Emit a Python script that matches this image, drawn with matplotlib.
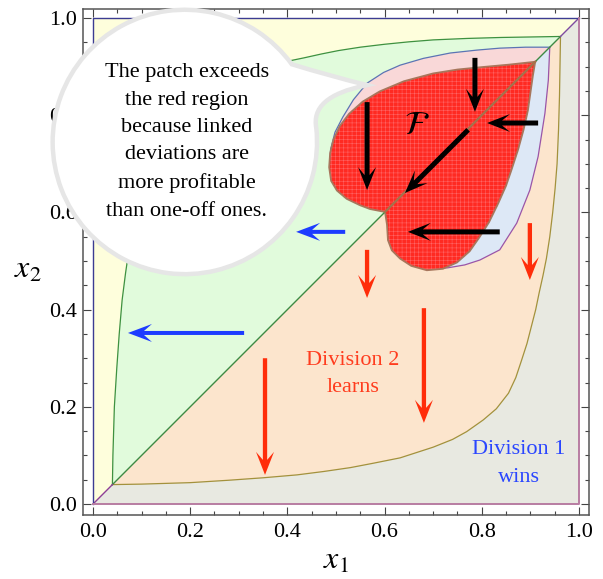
import numpy as np
import matplotlib
matplotlib.use("Agg")
import matplotlib.pyplot as plt
from matplotlib.patches import Polygon, PathPatch
from matplotlib.path import Path
from matplotlib.ticker import MultipleLocator

plt.rcParams["font.family"] = ["Liberation Serif", "DejaVu Serif"]
plt.rcParams["mathtext.fontset"] = "stix"
plt.rcParams["hatch.linewidth"] = 0.4

# boundary of the "Division 2 learns" region (below the diagonal); the upper curve is its mirror
olive_x1 = [0.040, 0.100, 0.200, 0.280, 0.350, 0.420, 0.475, 0.530, 0.577, 0.632, 0.700, 0.740,
            0.769, 0.803, 0.830, 0.855, 0.870, 0.882, 0.893, 0.902, 0.911, 0.918, 0.926, 0.933,
            0.940, 0.946, 0.951, 0.955, 0.958, 0.960, 0.961, 0.962]
olive_x2 = [0.040, 0.041, 0.044, 0.049, 0.054, 0.060, 0.067, 0.075, 0.084, 0.095, 0.117, 0.133,
            0.149, 0.173, 0.196, 0.228, 0.260, 0.296, 0.330, 0.365, 0.400, 0.434, 0.470, 0.505,
            0.550, 0.600, 0.650, 0.700, 0.770, 0.840, 0.900, 0.960]

# red patch F: upper half (above diagonal) and lower half, both from the notch to the tip
red_up_x1 = [0.601, 0.570, 0.549, 0.522, 0.502, 0.490, 0.486, 0.488, 0.495, 0.508, 0.527, 0.555,
             0.590, 0.640, 0.700, 0.750, 0.800, 0.855, 0.910]
red_up_x2 = [0.601, 0.607, 0.615, 0.628, 0.645, 0.665, 0.693, 0.722, 0.750, 0.778, 0.803, 0.828,
             0.849, 0.870, 0.886, 0.894, 0.899, 0.904, 0.910]
red_lo_x1 = [0.601, 0.605, 0.607, 0.615, 0.632, 0.655, 0.687, 0.720, 0.749, 0.775, 0.796, 0.815,
             0.834, 0.850, 0.861, 0.875, 0.886, 0.895, 0.900, 0.905, 0.910]
red_lo_x2 = [0.601, 0.575, 0.543, 0.522, 0.505, 0.490, 0.481, 0.484, 0.497, 0.520, 0.550, 0.580,
             0.619, 0.655, 0.687, 0.730, 0.770, 0.810, 0.845, 0.880, 0.910]

# lens around F: upper (pink) and lower (light blue) halves
lens_up_x1 = [0.601, 0.545, 0.505, 0.487, 0.489, 0.498, 0.514, 0.536, 0.564, 0.598, 0.632, 0.680,
              0.735, 0.790, 0.837, 0.890, 0.940]
lens_up_x2 = [0.601, 0.628, 0.655, 0.690, 0.730, 0.765, 0.796, 0.832, 0.866, 0.888, 0.903, 0.917,
              0.928, 0.934, 0.938, 0.940, 0.940]
lens_lo_x1 = [0.601, 0.628, 0.655, 0.690, 0.730, 0.765, 0.796, 0.837, 0.872, 0.899, 0.916, 0.930,
              0.937, 0.940]
lens_lo_x2 = [0.601, 0.545, 0.505, 0.484, 0.486, 0.492, 0.502, 0.523, 0.578, 0.646, 0.715, 0.804,
              0.872, 0.940]

# arrows: start -> end
arr_x0 = [0.786, 0.916, 0.772, 0.564, 0.837, 0.519, 0.311, 0.564, 0.899, 0.681, 0.354]
arr_y0 = [0.918, 0.784, 0.770, 0.827, 0.560, 0.560, 0.352, 0.523, 0.578, 0.403, 0.300]
arr_x1 = [0.786, 0.811, 0.642, 0.564, 0.648, 0.418, 0.072, 0.564, 0.899, 0.681, 0.354]
arr_y1 = [0.807, 0.784, 0.640, 0.646, 0.560, 0.560, 0.352, 0.424, 0.461, 0.167, 0.060]
arr_kind = ["k", "k", "k", "k", "k", "b", "b", "r", "r", "r", "r"]

bubble_lines = ["The patch exceeds", "the red region", "because linked",
                "deviations are", "more profitable", "than one-off ones."]
tick_vals = [0.0, 0.2, 0.4, 0.6, 0.8, 1.0]
tick_labels = ["0.0", "0.2", "0.4", "0.6", "0.8", "1.0"]

fig = plt.figure(figsize=(6.03, 5.79), dpi=100)
ax = fig.add_axes([0.1376, 0.1105, 0.8391, 0.8739])
ax.set_xlim(-0.0206, 1.0206)
ax.set_ylim(-0.0226, 1.0185)

ox, oy = np.array(olive_x1), np.array(olive_x2)

# background regions
ax.add_patch(Polygon([[0, 0], [1, 0], [1, 1], [0, 1]], closed=True, fc="#fefedc", ec="none", zorder=1))
green_poly = np.column_stack([np.r_[oy, ox[::-1]], np.r_[ox, ox[::-1]]])
ax.add_patch(Polygon(green_poly, closed=True, fc="#e1fbdc", ec="none", zorder=1))
orange_poly = np.column_stack([np.r_[ox, ox[::-1]], np.r_[oy, ox[::-1]]])
ax.add_patch(Polygon(orange_poly, closed=True, fc="#fce5cd", ec="none", zorder=1))
grey_poly = np.column_stack([np.r_[0, ox, 1, 1], np.r_[0, oy, 1, 0]])
ax.add_patch(Polygon(grey_poly, closed=True, fc="#e8e9e1", ec="none", zorder=1))

# lens
ax.add_patch(Polygon(np.column_stack([lens_up_x1, lens_up_x2]), closed=True, fc="#f9d8d8", ec="none", zorder=2))
ax.add_patch(Polygon(np.column_stack([lens_lo_x1, lens_lo_x2]), closed=True, fc="#dde8f6", ec="none", zorder=2))
ax.plot(lens_up_x1, lens_up_x2, color="#5b74b4", lw=0.9, zorder=2.5)
ax.plot(lens_lo_x1, lens_lo_x2, color="#9a55a8", lw=0.9, zorder=2.5)

# curves and borders
ax.plot(oy, ox, color="#3e9140", lw=0.9, zorder=4)
ax.plot(ox, oy, color="#a3913c", lw=0.9, zorder=4)
ax.plot([ox[0], ox[-1]], [ox[0], ox[-1]], color="#3e8a44", lw=1.0, zorder=4)
ax.plot([0, ox[0]], [0, ox[0]], color="#8e3f96", lw=1.0, zorder=4)
ax.plot([ox[-1], 1], [ox[-1], 1], color="#7e4aa0", lw=1.0, zorder=4)
ax.plot([0, 0, 1], [0, 1, 1], color="#3c3c92", lw=1.0, zorder=4)
ax.plot([0, 1, 1], [0, 0, 1], color="#b87da2", lw=1.4, zorder=4)

# red patch F
red_poly = np.column_stack([np.r_[red_up_x1, red_lo_x1[::-1]], np.r_[red_up_x2, red_lo_x2[::-1]]])
ax.add_patch(Polygon(red_poly, closed=True, fc="#ff2a22", ec="none", zorder=3))
ax.add_patch(Polygon(red_poly, closed=True, fill=False, hatch="++++", ec="#ff6464", lw=0, zorder=3.1))
ax.add_patch(Polygon(red_poly, closed=True, fill=False, ec="#a8765c", lw=1.3, zorder=3.2))
ax.plot([red_up_x1[0], red_up_x1[-1]], [red_up_x2[0], red_up_x2[-1]], color="#a8704c", lw=1.6, zorder=4.5)

# arrows drawn as polygons, sizes in pixels
ppu = ax.transData.transform((1, 0))[0] - ax.transData.transform((0, 0))[0]
colors = {"k": "black", "b": "#1d3cff", "r": "#ff2d0a"}
sizes = {"k": (5.0, 23, 18, 8), "b": (4.0, 24, 18, 8), "r": (4.3, 23, 18, 8)}


def arrow(x0, y0, x1, y1, kind):
    w, hl, hw, notch = [s / ppu for s in sizes[kind]]
    p0 = np.array([x0, y0])
    p1 = np.array([x1, y1])
    u = (p1 - p0) / np.hypot(*(p1 - p0))
    n = np.array([-u[1], u[0]])
    neck = p1 - u * (hl - notch)
    back = p1 - u * hl
    pts = [p0 + n * w / 2, neck + n * w / 2, back + n * hw / 2, p1,
           back - n * hw / 2, neck - n * w / 2, p0 - n * w / 2]
    ax.add_patch(Polygon(pts, closed=True, fc=colors[kind], ec="none", zorder=5))


for i in range(len(arr_kind)):
    arrow(arr_x0[i], arr_y0[i], arr_x1[i], arr_y1[i], arr_kind[i])

# text labels
ax.text(0.667, 0.778, r"$\mathcal{F}$", fontsize=24, ha="center", va="center", zorder=6)
ax.text(0.535, 0.268, "Division 2\nlearns", color="#ff3c1e", fontsize=16,
        ha="center", va="center", linespacing=1.6, zorder=6)
ax.text(0.877, 0.083, "Division 1\nwins", color="#2a46ff", fontsize=16,
        ha="center", va="center", linespacing=1.6, zorder=6)

# axes styling
for sp in ax.spines.values():
    sp.set_color("#555555")
    sp.set_linewidth(1.1)
ax.set_xticks(tick_vals)
ax.set_xticklabels(tick_labels)
ax.set_yticks(tick_vals)
ax.set_yticklabels(tick_labels)
ax.xaxis.set_minor_locator(MultipleLocator(0.05))
ax.yaxis.set_minor_locator(MultipleLocator(0.05))
ax.tick_params(which="both", direction="in", top=True, right=True, color="#444444", width=0.8)
ax.tick_params(which="major", length=6, labelsize=16, pad=6)
ax.tick_params(which="minor", length=3)
ax.tick_params(axis="y", pad=4)
ax.set_xlabel(r"$x_1$", fontsize=23)
ax.xaxis.set_label_coords(0.5, -0.062)
ax.set_ylabel(r"$x_2$", fontsize=23, rotation=0, ha="center", va="center")
ax.yaxis.set_label_coords(-0.109, 0.484)

# speech bubble on top of everything (covers some tick labels)
cx, cy, r = 0.189, 0.745, 0.272
arc = Path.arc(36, 366)
verts = list(arc.vertices * r + [cx, cy])
codes = list(arc.codes)
a = np.array(verts[0])
tip = np.array([0.564, 0.862])
verts += [[0.452, 0.815], [0.48, 0.845], tip, [0.49, 0.88], a, a]
codes += [Path.CURVE4, Path.CURVE4, Path.CURVE4, Path.CURVE3, Path.CURVE3, Path.CLOSEPOLY]
bubble = PathPatch(Path(verts, codes), transform=ax.transData, fc="white",
                   ec="#e6e6e6", lw=3.2, zorder=10)
fig.add_artist(bubble)
fig.text(0.193, 0.745, "\n".join(bubble_lines), transform=ax.transData, fontsize=16,
         ha="center", va="center", linespacing=1.6, zorder=11)

fig.savefig("out.png", dpi=100)
